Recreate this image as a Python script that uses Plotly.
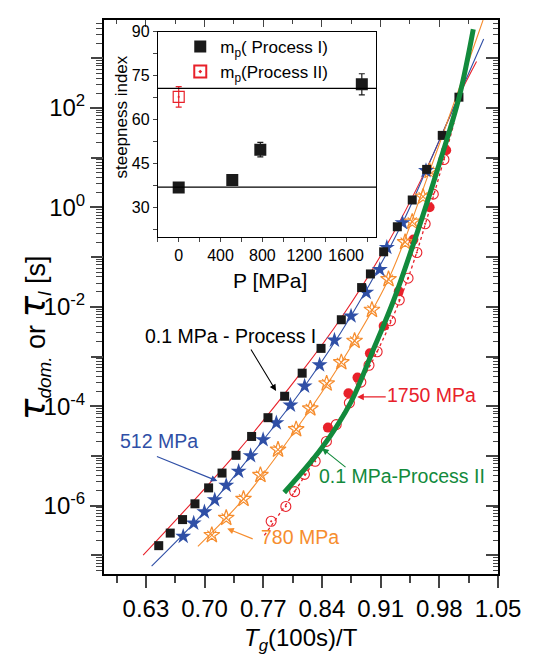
import plotly.graph_objects as go

# ---------------- data ----------------
# Main panel: x = Tg(100s)/T, tau in seconds
x_p1 = [0.6453, 0.6590, 0.6737, 0.6885, 0.7048, 0.7208, 0.7375, 0.7561, 0.7756, 0.7955,
        0.8164, 0.8389, 0.8631, 0.8873, 0.8978, 0.9136, 0.9299, 0.9477, 0.9649, 0.9835, 1.0034]
tau_p1 = [1.57e-7, 2.81e-7, 5.25e-7, 1.09e-6, 2.28e-6, 4.53e-6, 1.03e-5, 2.47e-5, 5.89e-5, 1.59e-4,
          4.63e-4, 1.46e-3, 5.50e-3, 2.44e-2, 4.59e-2, 0.128, 0.408, 1.41, 5.82, 28.1, 165.0]

x_512 = [0.6745, 0.6870, 0.6998, 0.7121, 0.7258, 0.7406, 0.7549, 0.7698, 0.7856, 0.8024,
         0.8193, 0.8372, 0.8549, 0.8747, 0.8928, 0.9090, 0.9174, 0.9361, 0.9641]
tau_512 = [2.41e-7, 4.44e-7, 7.50e-7, 1.31e-6, 2.55e-6, 4.91e-6, 1.01e-5, 2.12e-5, 4.62e-5, 1.05e-4,
           2.53e-4, 6.78e-4, 2.13e-3, 6.52e-3, 1.95e-2, 5.6e-2, 0.156, 0.490, 5.48]

x_780 = [0.7086, 0.7258, 0.7464, 0.7666, 0.7876, 0.8092, 0.8261, 0.8456, 0.8631, 0.8789,
         0.8996, 0.9194, 0.9392, 0.9477, 0.9606, 0.9684]
tau_780 = [2.56e-7, 5.68e-7, 1.37e-6, 4.13e-6, 1.34e-5, 3.44e-5, 9.02e-5, 2.86e-4, 7.66e-4, 2.07e-3,
           8.69e-3, 3.60e-2, 0.200, 0.513, 1.64, 5.38]

x_1750 = [0.8471, 0.8716, 0.8824, 0.8972, 0.9136, 0.9316, 0.9491, 0.9684, 0.9882]
tau_1750 = [3.72e-5, 1.83e-4, 3.77e-4, 1.16e-3, 4.12e-3, 2.05e-2, 0.225, 1.01, 14.1]

x_p2 = [0.7794, 0.7969, 0.8074, 0.8191, 0.8319, 0.8453, 0.8570, 0.8727, 0.8864, 0.8961,
        0.9058, 0.9217, 0.9322, 0.9427, 0.9532, 0.9631, 0.9728, 0.9855]
tau_p2 = [4.86e-7, 9.66e-7, 1.92e-6, 4.27e-6, 7.83e-6, 1.96e-5, 4.28e-5, 1.17e-4, 3.06e-4, 6.68e-4,
          1.25e-3, 5.25e-3, 1.37e-2, 3.77e-2, 0.124, 0.468, 1.85, 9.20]

# Fitted curves
x_fit_p1 = [0.6267, 0.7375, 0.8164, 0.8631, 0.9136, 0.9649, 1.0034, 1.0244]
tau_fit_p1 = [1.01e-7, 1.13e-5, 5.07e-4, 6.03e-3, 0.136, 6.10, 173.0, 859.0]

x_fit_512 = [0.6368, 0.6998, 0.7549, 0.8193, 0.8747, 0.9361, 0.9641, 1.0329]
tau_fit_512 = [6.09e-8, 7.50e-7, 1.01e-5, 2.53e-4, 6.52e-3, 0.490, 5.48, 2432.0]

x_fit_780 = [0.6920, 0.7464, 0.8092, 0.8631, 0.9194, 0.9684, 1.0322]
tau_fit_780 = [1.52e-7, 1.37e-6, 3.44e-5, 7.66e-4, 3.60e-2, 5.38, 5888.0]

x_fit_p2 = [0.7713, 0.8074, 0.8570, 0.9058, 0.9427, 0.9855, 0.9975]
tau_fit_p2 = [2.52e-7, 1.92e-6, 4.28e-5, 1.25e-3, 3.77e-2, 9.20, 50.0]

x_green = [0.7950, 0.8397, 0.8747, 0.8999, 0.9252, 0.9520, 0.9797, 1.0037, 1.0205]
tau_green = [1.84e-6, 1.44e-5, 1.23e-4, 1.21e-3, 1.31e-2, 0.258, 7.33, 167.5, 3846.0]

# Inset: steepness index vs pressure
P_proc1 = [0, 512, 780, 1750]
m_proc1 = [36.9, 39.4, 49.8, 72.1]
m_proc1_err = [1.0, 1.4, 2.5, 3.6]
P_proc2 = [0]
m_proc2 = [67.8]
m_proc2_err = [3.5]
m_ref_levels = [37.0, 70.7]

x_tickvals = [0.63, 0.70, 0.77, 0.84, 0.91, 0.98, 1.05]
x_ticktext = ["0.63", "0.70", "0.77", "0.84", "0.91", "0.98", "1.05"]
y_labeled = [-6, -4, -2, 0, 2]
y_unlabeled = [-7, -5, -3, -1, 1, 3]

# ---------------- layout helpers ----------------
W, H = 533, 658
L, R, T, B = 104, 507, 14, 574
FONT = "Liberation Sans, Arial, sans-serif"
RED = "#e8212a"
BLUE = "#2f4fa6"
ORANGE = "#f68d2e"
GREEN = "#128a3c"


def px(xp):
    return (xp - L) / (R - L)


def py(yp):
    return (B - yp) / (B - T)


x_range = [0.58, 1.05]
y_range = [3.77 - (B - T) / 50.25, 3.77]

fig = go.Figure()

# fit lines
fig.add_trace(go.Scatter(x=x_fit_p1, y=tau_fit_p1, mode="lines", line=dict(color=RED, width=1.1, shape="spline"), showlegend=False))
fig.add_trace(go.Scatter(x=x_fit_512, y=tau_fit_512, mode="lines", line=dict(color=BLUE, width=1.1, shape="spline"), showlegend=False))
fig.add_trace(go.Scatter(x=x_fit_780, y=tau_fit_780, mode="lines", line=dict(color=ORANGE, width=1.1, shape="spline"), showlegend=False))
fig.add_trace(go.Scatter(x=x_fit_p2, y=tau_fit_p2, mode="lines", line=dict(color=RED, width=1.3, dash="dot", shape="spline"), showlegend=False))

# markers
fig.add_trace(go.Scatter(x=x_p2, y=tau_p2, mode="markers",
                         marker=dict(symbol="circle-open-dot", size=10, color=RED, line=dict(width=1.1)), showlegend=False))
fig.add_trace(go.Scatter(x=x_1750, y=tau_1750, mode="markers",
                         marker=dict(symbol="circle", size=10, color=RED, line=dict(width=0)), showlegend=False))
fig.add_trace(go.Scatter(x=x_780, y=tau_780, mode="markers",
                         marker=dict(symbol="star-open", size=12, color=ORANGE, line=dict(width=1.2)), showlegend=False))
fig.add_trace(go.Scatter(x=x_780, y=tau_780, mode="markers",
                         marker=dict(symbol="x-thin-open", size=9, color=ORANGE, line=dict(width=1.1)), showlegend=False))
fig.add_trace(go.Scatter(x=x_512, y=tau_512, mode="markers",
                         marker=dict(symbol="star", size=12, color=BLUE, line=dict(width=0)), showlegend=False))
fig.add_trace(go.Scatter(x=x_p1, y=tau_p1, mode="markers",
                         marker=dict(symbol="square", size=9, color="#1a1a1a", line=dict(width=0)), showlegend=False))

# thick green line
fig.add_trace(go.Scatter(x=x_green, y=tau_green, mode="lines", line=dict(color=GREEN, width=5, shape="spline"), showlegend=False))

# helper traces that register the mirror / extra tick axes
fig.add_trace(go.Scatter(x=[], y=[], xaxis="x3", yaxis="y3", showlegend=False, hoverinfo="skip"))
fig.add_trace(go.Scatter(x=[], y=[], xaxis="x", yaxis="y4", showlegend=False, hoverinfo="skip"))

# inset reference lines
for lvl in m_ref_levels:
    fig.add_shape(type="line", xref="x2 domain", yref="y2", x0=0, x1=1, y0=lvl, y1=lvl,
                  line=dict(color="black", width=1.2))

# inset data
fig.add_trace(go.Scatter(x=P_proc1, y=m_proc1, mode="markers", xaxis="x2", yaxis="y2",
                         name="m<sub>p</sub>( Process I)",
                         marker=dict(symbol="square", size=12, color="#1a1a1a"),
                         error_y=dict(type="data", array=m_proc1_err, color="#1a1a1a", thickness=1.2, width=3)))
fig.add_trace(go.Scatter(x=P_proc2, y=m_proc2, mode="markers", xaxis="x2", yaxis="y2",
                         name="m<sub>p</sub>(Process II)",
                         marker=dict(symbol="square-open-dot", size=11, color=RED, line=dict(width=1.2)),
                         error_y=dict(type="data", array=m_proc2_err, color=RED, thickness=1.2, width=3)))

y_tickvals = [10.0 ** e for e in y_labeled]
y_ticktext = ["10<sup>%d</sup>" % e for e in y_labeled]
y_all_major = [10.0 ** e for e in range(-7, 4)]
y_minor = [m * 10.0 ** e for e in range(-8, 4) for m in range(2, 10)]
x_minor = [round(v - 0.035, 3) for v in x_tickvals]

axis_common = dict(showgrid=False, zeroline=False, showline=True, linecolor="black")

fig.update_layout(
    width=W, height=H,
    margin=dict(l=L, r=W - R, t=T, b=H - B, pad=0),
    paper_bgcolor="white", plot_bgcolor="white",
    font=dict(family=FONT, color="black"),
    xaxis=dict(range=x_range, tickmode="array", tickvals=x_tickvals, ticktext=x_ticktext,
               ticks="outside", ticklen=12, tickwidth=1.5, linewidth=2,
               tickfont=dict(size=24), minor=dict(tickvals=x_minor, ticks="outside", ticklen=7, tickwidth=1.5),
               **axis_common),
    yaxis=dict(type="log", range=y_range, tickmode="array", tickvals=y_tickvals, ticktext=y_ticktext,
               ticks="outside", ticklen=12, tickwidth=1.5, linewidth=2, tickfont=dict(size=24),
               minor=dict(tickvals=y_minor, ticks="outside", ticklen=6, tickwidth=1),
               **axis_common),
    yaxis4=dict(overlaying="y", side="left", anchor="x", type="log", range=y_range, tickmode="array",
                tickvals=[10.0 ** e for e in y_unlabeled], showticklabels=False, ticks="outside",
                ticklen=12, tickwidth=1.5, showline=False, showgrid=False, zeroline=False),
    xaxis3=dict(overlaying="x", side="top", anchor="y3", range=x_range, tickmode="array",
                tickvals=x_tickvals, showticklabels=False, ticks="inside", ticklen=7, tickwidth=1.2,
                linewidth=2, minor=dict(tickvals=x_minor, ticks="inside", ticklen=4, tickwidth=1.2),
                **axis_common),
    yaxis3=dict(overlaying="y", side="right", anchor="x3", type="log", range=y_range, tickmode="array",
                tickvals=y_all_major, showticklabels=False, ticks="inside", ticklen=12, tickwidth=1.5,
                linewidth=2, minor=dict(tickvals=y_minor, ticks="inside", ticklen=5, tickwidth=1),
                **axis_common),
    xaxis2=dict(domain=[px(159), px(382.7)], anchor="y2", range=[-200, 1890], tickmode="array",
                tickvals=[0, 400, 800, 1200, 1600], ticks="outside", ticklen=4, tickwidth=1,
                minor=dict(tickvals=[-200, 200, 600, 1000, 1400, 1800], ticks="outside", ticklen=4, tickwidth=1),
                tickfont=dict(size=16), linewidth=1, mirror=True, **axis_common),
    yaxis2=dict(domain=[py(233.3), py(26)], anchor="x2", range=[20, 90], tickmode="array",
                tickvals=[30, 45, 60, 75, 90], ticks="outside", ticklen=4, tickwidth=1,
                minor=dict(tickvals=[22.5, 37.5, 52.5, 67.5, 82.5], ticks="outside", ticklen=4, tickwidth=1),
                tickfont=dict(size=16), linewidth=1, mirror=True, **axis_common),
    showlegend=True,
    legend=dict(x=px(182), y=py(23), xanchor="left", yanchor="top", bgcolor="rgba(0,0,0,0)",
                font=dict(size=17, family=FONT), tracegroupgap=0, itemsizing="constant"),
)

ann = []
# axis titles
ann.append(dict(text="<i>T</i><sub><i>g</i></sub>(100s)/T", x=px(305), y=py(640), xref="paper", yref="paper",
                showarrow=False, font=dict(size=24), xanchor="center", yanchor="middle"))
TAU = "<span style='font-family:DejaVu Sans;font-size:36px;font-style:italic'>τ</span>"
ann.append(dict(text=TAU + "<sub><i>dom.</i></sub> or " + TAU + "<sub><i>l</i></sub> [s]",
                x=px(32), y=py(335), xref="paper", yref="paper", textangle=-90,
                showarrow=False, font=dict(size=27), xanchor="center", yanchor="middle"))
ann.append(dict(text="P [MPa]", x=px(274), y=py(277), xref="paper", yref="paper",
                showarrow=False, font=dict(size=21), xanchor="center", yanchor="middle"))
ann.append(dict(text="steepness index", x=px(122), y=py(112), xref="paper", yref="paper", textangle=-90,
                showarrow=False, font=dict(size=17), xanchor="center", yanchor="middle"))

# series labels
labels = [
    ("0.1 MPa - Process I", 233, 333, "black"),
    ("512 MPa", 160, 440, BLUE),
    ("780 MPa", 304, 537, ORANGE),
    ("1750 MPa", 439, 393, RED),
    ("0.1 MPa-Process II", 409, 475, GREEN),
]
for txt, xx, yy, col in labels:
    ann.append(dict(text=txt, x=px(xx), y=py(yy), xref="paper", yref="paper", showarrow=False,
                    font=dict(size=19.5, color=col), xanchor="center", yanchor="middle"))

# arrows (head, tail in pixels)
arrows = [
    ((280, 389), (254, 346), "black"),
    ((220, 480), (158, 455), BLUE),
    ((230, 528), (257, 539), ORANGE),
    ((363, 395), (393, 395), RED),
    ((327, 447), (352, 467), GREEN),
]
for (hx, hy), (tx, ty), col in arrows:
    ann.append(dict(text="", x=px(hx), y=py(hy), xref="paper", yref="paper", showarrow=True,
                    ax=tx - hx, ay=ty - hy, axref="pixel", ayref="pixel",
                    arrowhead=2, arrowsize=1.2, arrowwidth=1.1, arrowcolor=col))

fig.update_layout(annotations=ann)

fig.write_html("out.html")
